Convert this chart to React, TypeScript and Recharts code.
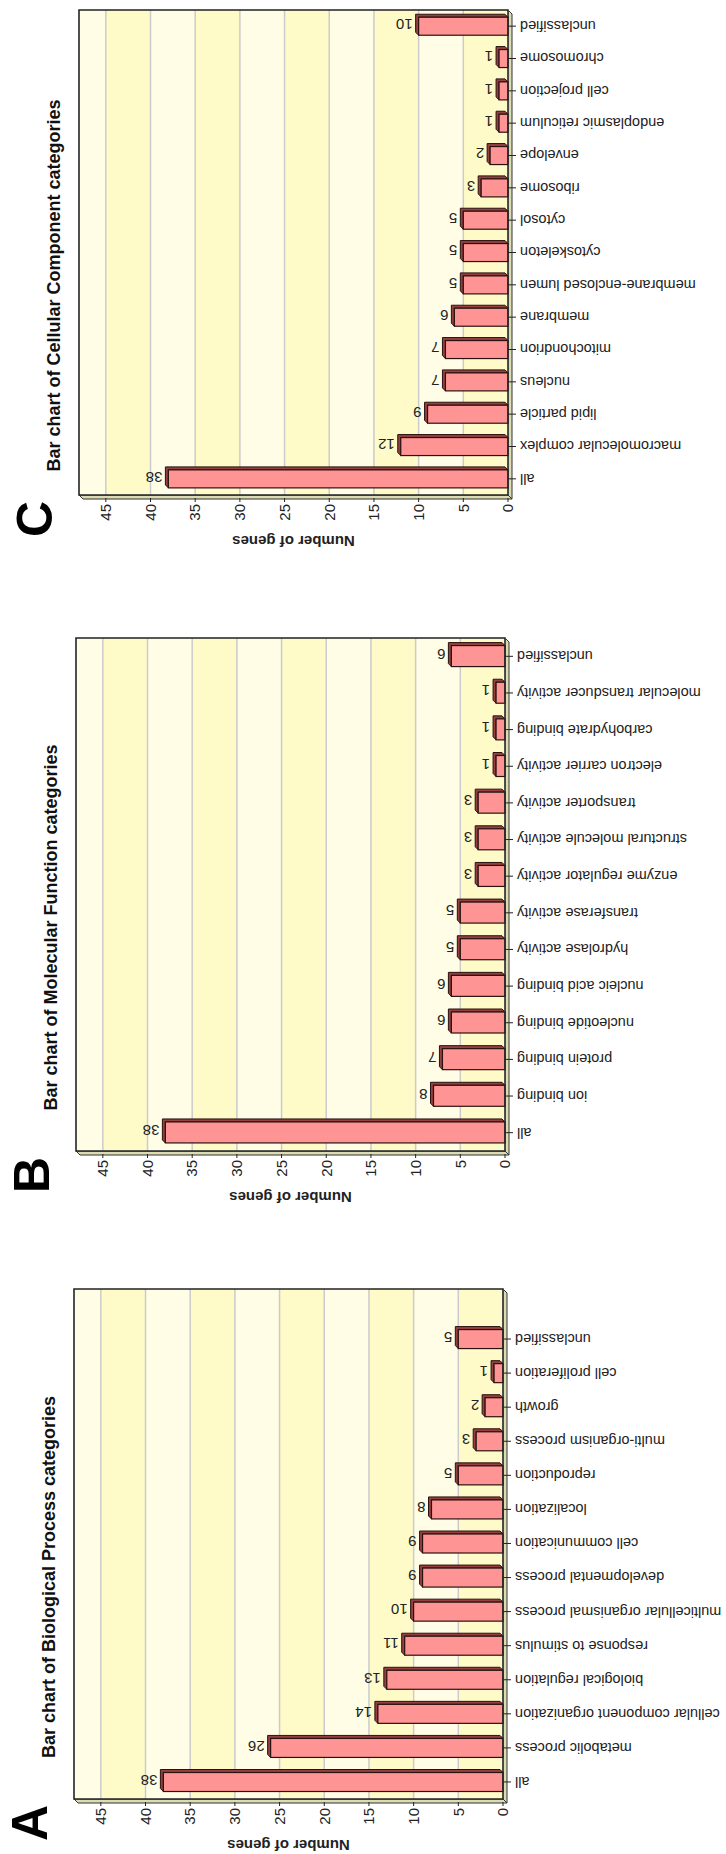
import { BarChart, Bar, XAxis, YAxis, CartesianGrid, LabelList, Label } from "recharts";

const FONT = '"Liberation Sans", Arial, Helvetica, sans-serif';

// Biological Process
const bpCategories = [
  "all",
  "metabolic process",
  "cellular component organization",
  "biological regulation",
  "response to stimulus",
  "multicellular organismal process",
  "developmental process",
  "cell communication",
  "localization",
  "reproduction",
  "multi-organism process",
  "growth",
  "cell proliferation",
  "unclassified",
];
const bpCounts = [38, 26, 14, 13, 11, 10, 9, 9, 8, 5, 3, 2, 1, 5];

// Molecular Function
const mfCategories = [
  "all",
  "ion binding",
  "protein binding",
  "nucleotide binding",
  "nucleic acid binding",
  "hydrolase activity",
  "transferase activity",
  "enzyme regulator activity",
  "structural molecule activity",
  "transporter activity",
  "electron carrier activity",
  "carbohydrate binding",
  "molecular transducer activity",
  "unclassified",
];
const mfCounts = [38, 8, 7, 6, 6, 5, 5, 3, 3, 3, 1, 1, 1, 6];

// Cellular Component
const ccCategories = [
  "all",
  "macromolecular complex",
  "lipid particle",
  "nucleus",
  "mitochondrion",
  "membrane",
  "membrane-enclosed lumen",
  "cytoskeleton",
  "cytosol",
  "ribosome",
  "envelope",
  "endoplasmic reticulum",
  "cell projection",
  "chromosome",
  "unclassified",
];
const ccCounts = [38, 12, 9, 7, 7, 6, 5, 5, 5, 3, 2, 1, 1, 1, 10];

const valueTicks = [0, 5, 10, 15, 20, 25, 30, 35, 40, 45];
const valueMax = 48;

const PANEL_H = 726;
const AXIS_LEFT = 55;
const PLOT_TOP = 74;
const PLOT_H = 429;
const DEPTH = 3;
const WALL = 4;

function Bar3D(props: any) {
  const { x, y, width, height } = props;
  if (!width || height == null) return null;
  const d = DEPTH;
  const side = [
    [x, y],
    [x + d, y - d],
    [x + width + d, y - d],
    [x + width + d, y + height - d],
    [x + width, y + height],
    [x + width, y],
  ]
    .map((p) => p.join(","))
    .join(" ");
  return (
    <g>
      <polygon points={side} fill="#963f3f" stroke="#2a1212" strokeWidth={1} />
      <rect x={x} y={y} width={width} height={height} fill="#ff9494" stroke="#2a1212" strokeWidth={1.2} />
    </g>
  );
}

function CountLabel(props: any) {
  const { x, y, width, value } = props;
  const ax = x + width / 2 + 2;
  const ay = y - DEPTH - 3;
  return (
    <text
      x={ax}
      y={ay}
      dy="0.35em"
      transform={`rotate(-90, ${ax}, ${ay})`}
      textAnchor="start"
      fontFamily={FONT}
      fontSize={15}
      fill="#222"
    >
      {value}
    </text>
  );
}

function CategoryTick(props: any) {
  const { x, y, payload } = props;
  return (
    <text
      x={x}
      y={y}
      dy="0.35em"
      transform={`rotate(-90, ${x}, ${y})`}
      textAnchor="end"
      fontFamily={FONT}
      fontSize={14.5}
      fill="#222"
    >
      {payload.value}
    </text>
  );
}

function ValueTick(props: any) {
  const { x, y, payload } = props;
  if (payload.value === valueMax) return null;
  return (
    <g>
      <line x1={x + 2} x2={x + 6} y1={y} y2={y} stroke="#222" strokeWidth={1} />
      <text x={x} y={y} dy="0.35em" textAnchor="end" fontFamily={FONT} fontSize={15} fill="#222">
        {payload.value}
      </text>
    </g>
  );
}

function AxisTitle(props: any) {
  const vb = props.viewBox || { x: 5, y: PLOT_TOP, width: 50, height: PLOT_H };
  const tx = vb.x + 9;
  const ty = vb.y + vb.height / 2;
  return (
    <text
      x={tx}
      y={ty}
      transform={`rotate(-90, ${tx}, ${ty})`}
      textAnchor="middle"
      fontFamily={FONT}
      fontSize={15}
      fontWeight="bold"
      fill="#222"
    >
      Number of genes
    </text>
  );
}

interface PanelProps {
  letter: string;
  title: string;
  categories: string[];
  counts: number[];
  left: number;
  top: number;
  plotWidth: number;
  padRight: number;
}

function GoPanel({ letter, title, categories, counts, left, top, plotWidth, padRight }: PanelProps) {
  const data = categories.map((name, i) => ({ name, count: counts[i] }));
  const panelW = AXIS_LEFT + plotWidth + 10;
  const right = AXIS_LEFT + plotWidth;
  const bottom = PLOT_TOP + PLOT_H;
  const layer = { position: "absolute" as const, left: 0, top: 0, pointerEvents: "none" as const };
  return (
    <div style={{ position: "absolute", left, top, width: panelW, height: PANEL_H }}>
      {/* 3D side wall and floor of the plot box */}
      <svg width={panelW} height={PANEL_H} style={layer}>
        <polygon
          points={`${AXIS_LEFT - WALL},${PLOT_TOP + WALL} ${AXIS_LEFT},${PLOT_TOP} ${AXIS_LEFT},${bottom} ${AXIS_LEFT - WALL},${bottom + WALL}`}
          fill="#dcdcb4"
          stroke="#333"
          strokeWidth={1}
        />
        <polygon
          points={`${AXIS_LEFT - WALL},${bottom + WALL} ${AXIS_LEFT},${bottom} ${right},${bottom} ${right - WALL},${bottom + WALL}`}
          fill="#dcdcb4"
          stroke="#333"
          strokeWidth={1}
        />
      </svg>
      <BarChart
        width={panelW}
        height={PANEL_H}
        data={data}
        margin={{ top: PLOT_TOP, right: 10, bottom: 3, left: 5 }}
        barCategoryGap="22%"
      >
        <CartesianGrid
          vertical={false}
          stroke="#cbcbcb"
          strokeWidth={1.5}
          horizontalFill={["#fffde6", "#fffbc9"]}
        />
        <XAxis
          dataKey="name"
          interval={0}
          height={220}
          padding={{ left: 0, right: padRight }}
          tickSize={8}
          tickMargin={4}
          tick={<CategoryTick />}
          axisLine={false}
          tickLine={{ stroke: "#222" }}
        />
        <YAxis
          type="number"
          domain={[0, valueMax]}
          ticks={[...valueTicks, valueMax]}
          width={50}
          tickSize={7}
          tickMargin={2}
          tickLine={false}
          tick={<ValueTick />}
          axisLine={false}
          label={<Label content={AxisTitle} />}
        />
        <Bar dataKey="count" shape={<Bar3D />} isAnimationActive={false}>
          <LabelList dataKey="count" content={<CountLabel />} />
        </Bar>
      </BarChart>
      <svg width={panelW} height={PANEL_H} style={layer}>
        <rect x={AXIS_LEFT} y={PLOT_TOP} width={plotWidth} height={PLOT_H} fill="none" stroke="#222" strokeWidth={1.5} />
        <text
          x={AXIS_LEFT + plotWidth / 2 - 33}
          y={55}
          textAnchor="middle"
          fontFamily={FONT}
          fontSize={18}
          fontWeight="bold"
          fill="#111"
        >
          {title}
        </text>
        <text x={13} y={47} fontFamily={FONT} fontSize={50} fontWeight="bold" fill="#000">
          {letter}
        </text>
      </svg>
    </div>
  );
}

export default function App() {
  return (
    <>
      <style>{"body{margin:0;overflow:hidden;background:#fff}"}</style>
      {/* landscape figure turned a quarter turn counter-clockwise onto the portrait page */}
      <div
        style={{
          position: "absolute",
          left: 0,
          top: 0,
          width: 1854,
          height: 726,
          transformOrigin: "0 0",
          transform: "translateY(1854px) rotate(-90deg)",
        }}
      >
        <GoPanel
          letter="A"
          title="Bar chart of Biological Process categories"
          categories={bpCategories}
          counts={bpCounts}
          left={0}
          top={0}
          plotWidth={510}
          padRight={33}
        />
        <GoPanel
          letter="B"
          title="Bar chart of Molecular Function categories"
          categories={mfCategories}
          counts={mfCounts}
          left={648}
          top={2}
          plotWidth={513}
          padRight={0}
        />
        <GoPanel
          letter="C"
          title="Bar chart of Cellular Component categories"
          categories={ccCategories}
          counts={ccCounts}
          left={1304}
          top={5}
          plotWidth={485}
          padRight={0}
        />
      </div>
    </>
  );
}
